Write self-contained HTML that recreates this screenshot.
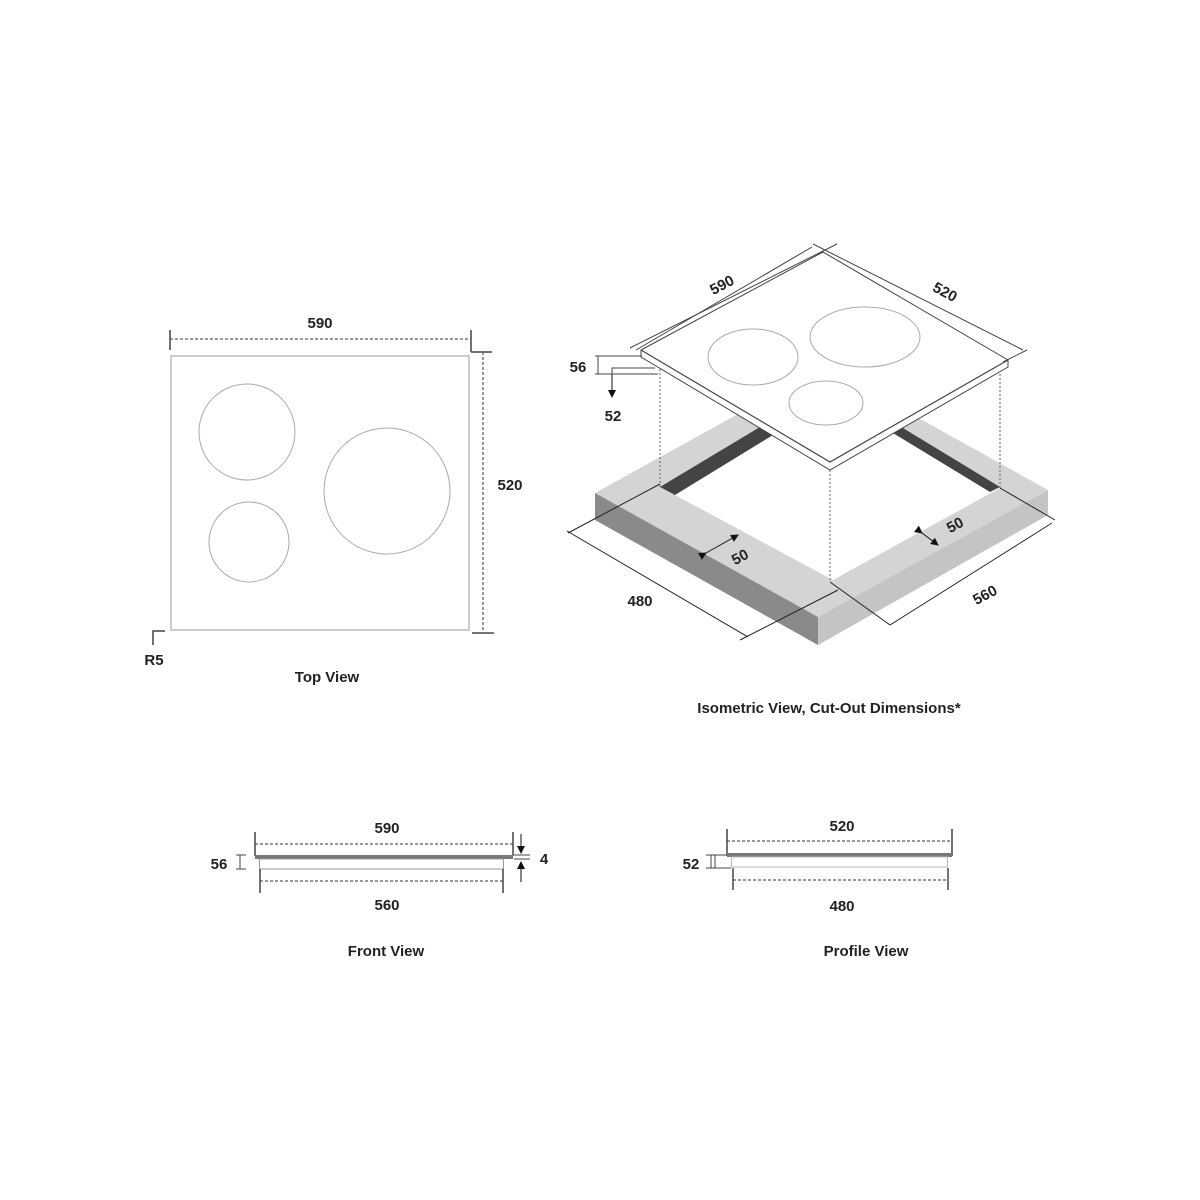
<!DOCTYPE html>
<html><head><meta charset="utf-8"><style>
html,body{margin:0;padding:0;background:#fff;}
svg{display:block;}
text{font-family:"Liberation Sans",sans-serif;font-weight:bold;font-size:15px;fill:#222;text-anchor:middle;}
</style></head><body>
<svg width="1200" height="1200" viewBox="0 0 1200 1200">
<defs>
<marker id="ah" markerWidth="8" markerHeight="8" refX="7" refY="4" orient="auto"><path d="M0,0 L8,4 L0,8z" fill="#111"/></marker>
</defs>
<!-- TOP VIEW -->
<rect x="171" y="356" width="298" height="274" fill="none" stroke="#ccc" stroke-width="2"/>
<circle cx="247" cy="432" r="48" fill="none" stroke="#aaa" stroke-width="1"/>
<circle cx="387" cy="491" r="63" fill="none" stroke="#aaa" stroke-width="1"/>
<circle cx="249" cy="542" r="40" fill="none" stroke="#aaa" stroke-width="1"/>
<line x1="170" y1="339" x2="471" y2="339" stroke="#777" stroke-width="1.5" stroke-dasharray="3,2"/>
<line x1="170" y1="330" x2="170" y2="350" stroke="#444" stroke-width="1.5"/>
<line x1="471" y1="330" x2="471" y2="352" stroke="#444" stroke-width="1.5"/>
<line x1="471" y1="352" x2="492" y2="352" stroke="#444" stroke-width="1.5"/>
<line x1="483" y1="352" x2="483" y2="632" stroke="#777" stroke-width="1.5" stroke-dasharray="3,2"/>
<line x1="472" y1="633" x2="494" y2="633" stroke="#444" stroke-width="1.5"/>
<path d="M153,645 V631 H165" fill="none" stroke="#444" stroke-width="1.5"/>
<text x="320" y="328">590</text>
<text x="510" y="490">520</text>
<text x="154" y="665">R5</text>
<text x="327" y="682">Top View</text>

<!-- ISOMETRIC -->
<polygon points="595,493 825,366 1048,490 818,617" fill="#d4d4d4"/>
<polygon points="660,487 827,395 1000,488 833,580" fill="#fff"/>
<polygon points="660,487 675,495 773,435 760,427" fill="#444"/>
<polygon points="888,430 898,425 1000,487 990,492" fill="#444"/>
<polygon points="595,493 818,617 818,645 595,520" fill="#8a8a8a"/>
<polygon points="818,617 1048,490 1048,515 818,645" fill="#c4c4c4"/>
<line x1="660" y1="365" x2="660" y2="487" stroke="#666" stroke-dasharray="2,2"/>
<line x1="1000" y1="370" x2="1000" y2="488" stroke="#666" stroke-dasharray="2,2"/>
<line x1="830" y1="470" x2="830" y2="582" stroke="#666" stroke-dasharray="2,2"/>
<polygon points="641,350 823,252 1008,360 1008,367 830,470 641,357" fill="#fff" stroke="#444" stroke-width="1"/>
<polyline points="641,350 830,462 1008,360" fill="none" stroke="#444" stroke-width="1.2"/>
<ellipse cx="753" cy="357" rx="45" ry="28" fill="none" stroke="#aaa"/>
<ellipse cx="865" cy="337" rx="55" ry="30" fill="none" stroke="#aaa"/>
<ellipse cx="826" cy="403" rx="37" ry="22" fill="none" stroke="#aaa"/>
<line x1="630" y1="348" x2="837" y2="244" stroke="#444"/>
<line x1="636" y1="350" x2="812" y2="247" stroke="#444"/>
<line x1="813" y1="244" x2="1023" y2="350" stroke="#444"/>
<line x1="1003" y1="362" x2="1027" y2="350" stroke="#444"/>
<text x="722" y="290" transform="rotate(-28 722 285)">590</text>
<text x="945" y="297" transform="rotate(28 945 292)">520</text>
<line x1="567" y1="531" x2="748" y2="637" stroke="#222"/>
<line x1="568" y1="533" x2="660" y2="484" stroke="#222"/>
<line x1="740" y1="640" x2="838" y2="590" stroke="#222"/>
<line x1="830" y1="582" x2="890" y2="625" stroke="#222"/>
<line x1="890" y1="625" x2="1052" y2="523" stroke="#222"/>
<line x1="1000" y1="488" x2="1055" y2="520" stroke="#222"/>
<text x="640" y="606">480</text>
<text x="985" y="600" transform="rotate(-28 985 595)">560</text>
<line x1="706" y1="553" x2="738" y2="535" stroke="#111" marker-end="url(#ah)" marker-start="url(#ah)"/>
<text x="740" y="562" transform="rotate(-28 740 557)">50</text>
<line x1="922" y1="533" x2="938" y2="545" stroke="#111" marker-end="url(#ah)" marker-start="url(#ah)"/>
<text x="955" y="530" transform="rotate(-28 955 525)">50</text>
<line x1="595" y1="356" x2="642" y2="356" stroke="#444"/>
<line x1="595" y1="374" x2="658" y2="374" stroke="#444"/>
<line x1="598" y1="356" x2="598" y2="374" stroke="#444"/>
<polyline points="612,375 612,368 655,368" fill="none" stroke="#444"/>
<line x1="612" y1="375" x2="612" y2="397" stroke="#111" marker-end="url(#ah)"/>
<text x="578" y="372">56</text>
<text x="613" y="421">52</text>
<text x="829" y="713">Isometric View, Cut-Out Dimensions*</text>

<!-- FRONT VIEW -->
<line x1="255" y1="844" x2="513" y2="844" stroke="#777" stroke-width="1.5" stroke-dasharray="3,2"/>
<line x1="255" y1="832" x2="255" y2="856" stroke="#444" stroke-width="1.5"/>
<line x1="513" y1="832" x2="513" y2="856" stroke="#444" stroke-width="1.5"/>
<rect x="255" y="855" width="258" height="4" fill="#777"/>
<rect x="259.5" y="859" width="244" height="10" fill="none" stroke="#999"/>
<line x1="260" y1="881" x2="503" y2="881" stroke="#777" stroke-width="1.5" stroke-dasharray="3,2"/>
<line x1="260" y1="869" x2="260" y2="893" stroke="#444" stroke-width="1.5"/>
<line x1="503" y1="869" x2="503" y2="893" stroke="#444" stroke-width="1.5"/>
<path d="M236,855 H246 M236,869 H246 M240,855 V869" stroke="#444" fill="none"/>
<line x1="514" y1="855" x2="530" y2="855" stroke="#444"/><line x1="514" y1="859" x2="530" y2="859" stroke="#444"/>
<line x1="521" y1="834" x2="521" y2="853" stroke="#111" marker-end="url(#ah)"/>
<line x1="521" y1="882" x2="521" y2="862" stroke="#111" marker-end="url(#ah)"/>
<text x="387" y="833">590</text>
<text x="387" y="910">560</text>
<text x="219" y="869">56</text>
<text x="544" y="864">4</text>
<text x="386" y="956">Front View</text>

<!-- PROFILE VIEW -->
<line x1="727" y1="841" x2="952" y2="841" stroke="#777" stroke-width="1.5" stroke-dasharray="3,2"/>
<line x1="727" y1="829" x2="727" y2="856" stroke="#444" stroke-width="1.5"/>
<line x1="952" y1="829" x2="952" y2="856" stroke="#444" stroke-width="1.5"/>
<rect x="727" y="853" width="225" height="4" fill="#777"/>
<rect x="731.5" y="857" width="216" height="10" fill="none" stroke="#bbb"/>
<line x1="733" y1="880" x2="948" y2="880" stroke="#777" stroke-width="1.5" stroke-dasharray="3,2"/>
<line x1="733" y1="868" x2="733" y2="890" stroke="#444" stroke-width="1.5"/>
<line x1="948" y1="868" x2="948" y2="890" stroke="#444" stroke-width="1.5"/>
<path d="M706,855 H727 M706,868 H731 M711,855 V868 M715,855 V868" stroke="#444" fill="none"/>
<text x="842" y="831">520</text>
<text x="842" y="911">480</text>
<text x="691" y="869">52</text>
<text x="866" y="956">Profile View</text>
</svg>
</body></html>
